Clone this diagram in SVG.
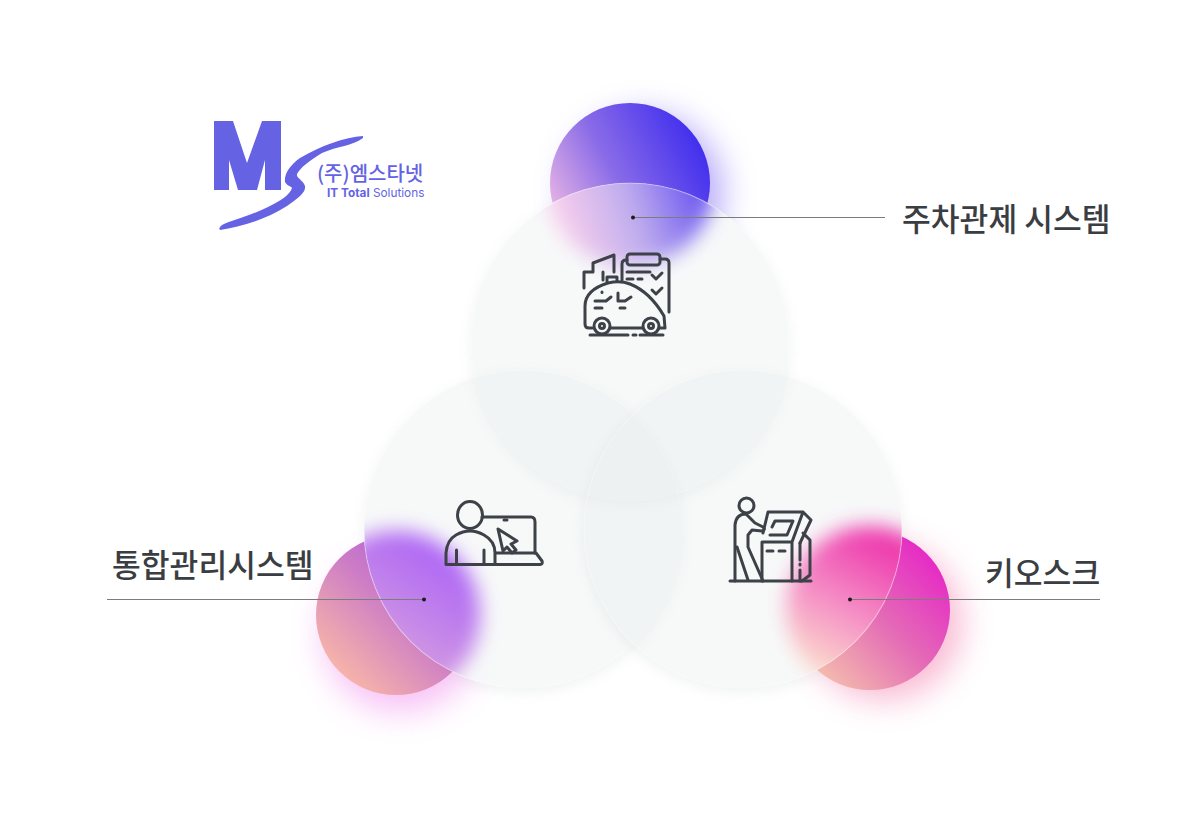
<svg xmlns="http://www.w3.org/2000/svg" width="1203" height="827" viewBox="0 0 1203 827">
<style>
.ic{fill:none;stroke:#3c4248;stroke-width:3;stroke-linecap:round;stroke-linejoin:round}
.lb{font-family:"Noto Sans CJK KR","Noto Sans",sans-serif;font-size:31.300px;font-weight:500;fill:#3a3d41}
.ld{stroke:#7c7c7c;stroke-width:1;fill:none}
.dot{fill:#1c1c1c}
.tint{fill:#e3e8e8;fill-opacity:.28}
.edge{fill:none;stroke:#fff;stroke-opacity:.35;stroke-width:1.200}
.sh{fill:#c4caca;opacity:.22}
.lg{fill:#6563e4}
</style>
<defs>
<linearGradient id="gt" gradientUnits="userSpaceOnUse" x1="708" y1="145" x2="552" y2="228"><stop offset="0" stop-color="#3d2bee"/><stop offset=".55" stop-color="#8a6ce8"/><stop offset="1" stop-color="#f2bde4"/></linearGradient>
<linearGradient id="gtb" gradientUnits="userSpaceOnUse" x1="705" y1="190" x2="560" y2="240"><stop offset="0" stop-color="#6550f0"/><stop offset=".5" stop-color="#c0aeee"/><stop offset="1" stop-color="#fcd0ec"/></linearGradient>
<linearGradient id="gl" gradientUnits="userSpaceOnUse" x1="465" y1="545" x2="335" y2="680"><stop offset="0" stop-color="#a34fe0"/><stop offset=".5" stop-color="#cc7cc6"/><stop offset="1" stop-color="#fbb9a6"/></linearGradient>
<linearGradient id="glb" gradientUnits="userSpaceOnUse" x1="470" y1="555" x2="390" y2="670"><stop offset="0" stop-color="#a95ff8"/><stop offset="1" stop-color="#d8a2de"/></linearGradient>
<linearGradient id="gr" gradientUnits="userSpaceOnUse" x1="940" y1="545" x2="805" y2="675"><stop offset="0" stop-color="#e61fc8"/><stop offset=".5" stop-color="#e46bb6"/><stop offset="1" stop-color="#f6c6ac"/></linearGradient>
<linearGradient id="grb" gradientUnits="userSpaceOnUse" x1="860" y1="530" x2="785" y2="665"><stop offset="0" stop-color="#ee3aae"/><stop offset=".5" stop-color="#f590c6"/><stop offset="1" stop-color="#fce6cc"/></linearGradient>
<filter id="bg" x="-60%" y="-60%" width="220%" height="220%"><feGaussianBlur stdDeviation="16"/></filter>
<filter id="bi" x="-40%" y="-40%" width="180%" height="180%"><feGaussianBlur stdDeviation="10"/></filter>
<filter id="sh" x="-20%" y="-20%" width="140%" height="140%"><feGaussianBlur stdDeviation="6"/></filter>
<clipPath id="ct"><circle cx="630" cy="342" r="159"/></clipPath>
<clipPath id="cl"><circle cx="523" cy="529" r="159"/></clipPath>
<clipPath id="cr"><circle cx="743" cy="529" r="159"/></clipPath>
<clipPath id="ot"><path clip-rule="evenodd" d="M0,0H1203V827H0ZM789,342A159,159 0 1 0 471,342A159,159 0 1 0 789,342Z"/></clipPath>
<clipPath id="ol"><path clip-rule="evenodd" d="M0,0H1203V827H0ZM682,529A159,159 0 1 0 364,529A159,159 0 1 0 682,529Z"/></clipPath>
<clipPath id="or"><path clip-rule="evenodd" d="M0,0H1203V827H0ZM902,529A159,159 0 1 0 584,529A159,159 0 1 0 902,529Z"/></clipPath>
</defs>
<rect width="1203" height="827" fill="#fff"/>

<g id="node-top">
<g clip-path="url(#ot)">
<circle cx="645" cy="192" r="78" fill="#7f68f6" opacity=".55" filter="url(#bg)"/>
<circle class="sh" cx="630" cy="346" r="160" filter="url(#sh)"/>
<circle cx="630" cy="183" r="80" fill="url(#gt)"/>
</g>
<circle class="tint" cx="630" cy="342" r="159"/>
<g clip-path="url(#ct)"><circle cx="630" cy="183" r="84" fill="url(#gtb)" filter="url(#bi)"/></g>
<circle class="edge" cx="630" cy="342" r="159"/>
<g class="ic">
<path d="M584,288V272H593V263L614,255V272M603,272V280"/>
<path d="M622,280V264Q622,260 626,260H627M660,259H665Q669,259 669,263V312"/>
<rect x="627" y="254" width="33" height="11" rx="3"/>
<path d="M627,272H650M627,279H633M638,279H642"/>
<path d="M652,275L656,279L662,273M652,290L656,294L662,288"/>
<path d="M592,328H589Q585,328 585,324V306Q585,290 608,283Q620,280 630,284Q650,292 664,316L665,328H659"/>
<path d="M610,328H642"/>
<circle cx="602" cy="326" r="8"/><circle cx="602" cy="326" r="2.500"/>
<circle cx="651" cy="326" r="8"/><circle cx="651" cy="326" r="2.500"/>
<path d="M607,282V277H617V281"/>
<path d="M595,301H606L611,297M618,293V301H625L631,297M602,292V292.500M595,308H602M620,308H625"/>
<path d="M590,335H628M633,335H636M640,335H663"/>
</g>
</g>

<g id="node-left">
<g clip-path="url(#ol)">
<circle cx="401" cy="634" r="78" fill="#f078ec" opacity=".45" filter="url(#bg)"/>
<circle class="sh" cx="523" cy="533" r="160" filter="url(#sh)"/>
<circle cx="396" cy="615" r="80" fill="url(#gl)"/>
</g>
<circle class="tint" cx="523" cy="529" r="159"/>
<g clip-path="url(#cl)"><circle cx="396" cy="615" r="84" fill="url(#glb)" filter="url(#bi)"/></g>
<circle class="edge" cx="523" cy="529" r="159"/>
<g class="ic">
<ellipse cx="470" cy="515" rx="12.500" ry="13.500"/>
<path d="M446,564.500V553Q447,540 456,535Q470,527 484,535Q495,541 495,553V564.500Z"/>
<path d="M456.500,550V564M484,550V564"/>
<path d="M482,517H531Q535,517 535,522V553"/>
<path d="M496,553H536L542,561Q543,564.500 540,564.500H496"/>
<path d="M504,520H507"/>
<path d="M498,529L517,541L511,544L516,550L512,553L507,547L503,551Z"/>
</g>
</g>

<g id="node-right">
<g clip-path="url(#or)">
<circle cx="884" cy="622" r="78" fill="#f2669e" opacity=".45" filter="url(#bg)"/>
<circle class="sh" cx="743" cy="533" r="160" filter="url(#sh)"/>
<circle cx="870" cy="610" r="80" fill="url(#gr)"/>
</g>
<circle class="tint" cx="743" cy="529" r="159"/>
<g clip-path="url(#cr)"><circle cx="870" cy="610" r="84" fill="url(#grb)" filter="url(#bi)"/></g>
<circle class="edge" cx="743" cy="529" r="159"/>
<g class="ic">
<circle cx="746.500" cy="505.500" r="7.500"/>
<path d="M735,581V525Q736,514 746,514L755,523L763,527Q766,530 762,531L752,530L748,535V547L763,581"/>
<path d="M737,547L748,580"/>
<path d="M763,533L768,512H803L811,520L800,543M803,512L792,542H762V581M792,542V581"/>
<path d="M772,527L775,521H793L787,535H770"/>
<path d="M767,551H773M779,551H785"/>
<path d="M800,543V560M800,564V565M800,570V581M803,533L810,540V575L802,581"/>
<path d="M730,581H811"/>
</g>
</g>

<g id="connectors">
<path class="ld" d="M633,217.500H885"/>
<circle class="dot" cx="633" cy="217.500" r="2"/>
<path class="ld" d="M107,599.500H424"/>
<circle class="dot" cx="424" cy="599.500" r="2"/>
<path class="ld" d="M850,599.500H1100"/>
<circle class="dot" cx="850" cy="599.500" r="2"/>
</g>

<g id="labels">
<text class="lb" x="902" y="231">주차관제 시스템</text>
<text class="lb" x="112" y="577">통합관리시스템</text>
<text class="lb" x="985" y="585">키오스크</text>
</g>

<g id="logo">
<path class="lg" d="M214,121H233L247,163L262,121H281V190H265V160L257,190H238L229,160V190H214Z"/>
<path class="lg" d="M363,136C345,137 320,146 300,158C290,165 284,174 285,182C287,186 291,186 292,188C290,195 280,201 268,207C250,216 232,220 222,225Q218,228 220,230C240,227 265,220 287,206C300,197 306,192 305,186C303,180 296,178 297,174C300,168 310,160 322,153C338,146 352,146 363,138Z"/>
<text x="317" y="181" font-family="'Noto Sans CJK KR',sans-serif" font-size="20" font-weight="500" fill="#6563e4">(주)엠스타넷</text>
<text x="327" y="197" font-family="Inter,'Noto Sans',sans-serif" font-size="11.800" fill="#6563e4"><tspan font-weight="700">IT Total</tspan> Solutions</text>
</g>
</svg>
